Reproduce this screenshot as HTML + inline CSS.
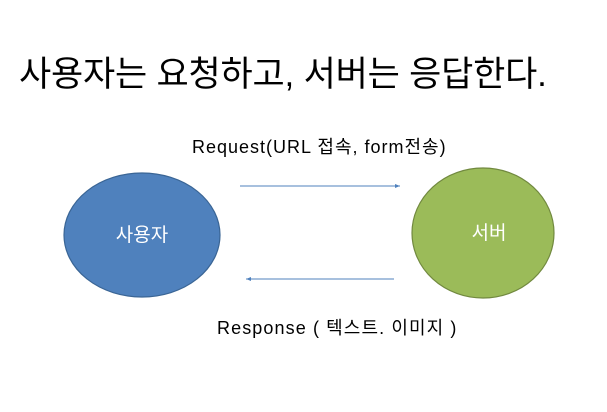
<!DOCTYPE html>
<html><head><meta charset="utf-8"><style>
html,body{margin:0;padding:0;background:#fff;width:607px;height:412px;overflow:hidden}
body{position:relative;font-family:"Liberation Sans","Noto Sans CJK KR",sans-serif}
.t{position:absolute;white-space:nowrap;color:#000}
</style></head><body>
<div class="t" style="left:19px;top:46px;font-size:35px;letter-spacing:-0.2px">사용자는 요청하고, 서버는 응답한다.</div>
<div class="t" style="left:192px;top:133px;font-size:18px;letter-spacing:1px">Request(URL 접속, form전송)</div>
<div class="t" style="left:217px;top:314px;font-size:18px;letter-spacing:1.1px">Response ( 텍스트. 이미지 )</div>
<svg width="607" height="412" style="position:absolute;left:0;top:0">
<defs><marker id="a" markerWidth="6" markerHeight="6" refX="5" refY="3" orient="auto"><path d="M0,1 L5,3 L0,5 z" fill="#4f81bd"/></marker></defs>
<ellipse cx="142" cy="235" rx="78" ry="62" fill="#4f81bd" stroke="#3a6595" stroke-width="1.2"/>
<ellipse cx="483" cy="233" rx="71" ry="65" fill="#9bbb59" stroke="#71893f" stroke-width="1.2"/>
<line x1="240" y1="186" x2="400" y2="186" stroke="#4f81bd" stroke-width="1" marker-end="url(#a)"/>
<line x1="394" y1="279" x2="246" y2="279" stroke="#4f81bd" stroke-width="1" marker-end="url(#a)"/>
<text x="142" y="241" font-size="19" fill="#fff" text-anchor="middle" font-family="Liberation Sans, Noto Sans CJK KR, sans-serif">사용자</text>
<text x="489" y="239" font-size="19" fill="#fff" text-anchor="middle" font-family="Liberation Sans, Noto Sans CJK KR, sans-serif">서버</text>
</svg>
</body></html>
